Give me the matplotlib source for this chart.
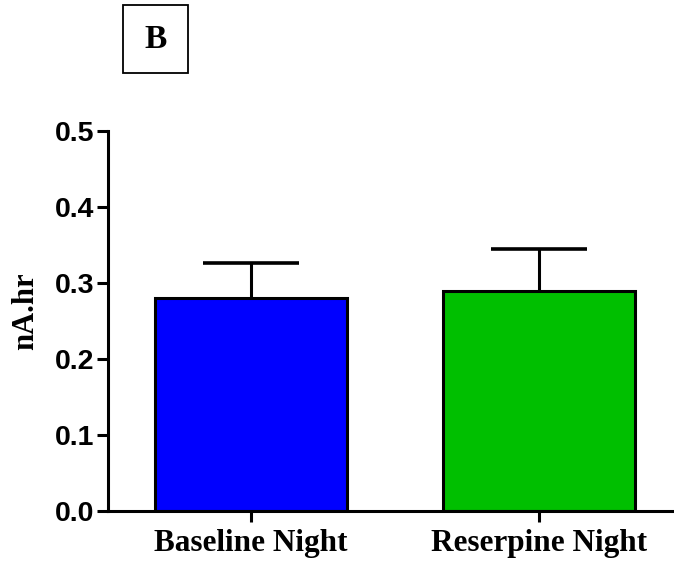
import matplotlib
matplotlib.use("Agg")
import matplotlib.pyplot as plt
from matplotlib.patches import Rectangle

categories = ["Baseline Night", "Reserpine Night"]
means = [0.280, 0.289]
errors = [0.046, 0.056]
bar_colors = ["#0000FF", "#00BF00"]
yticks = [0.0, 0.1, 0.2, 0.3, 0.4, 0.5]

fig = plt.figure(figsize=(6.74, 5.63), dpi=100)
ax = fig.add_axes([108 / 674, 1 - 511 / 563, 1 - 108 / 674, 380 / 563])

x = list(range(len(categories)))
ax.bar(x, means, width=0.665, color=bar_colors, edgecolor="black", linewidth=2.2, zorder=2)
# error bars sit behind the bars so only the upper half shows
ax.errorbar(x, means, yerr=errors, fmt="none", ecolor="black",
            elinewidth=2.2, capsize=34.5, capthick=2.6, zorder=1)

ax.set_xlim(-0.497, 1.469)
ax.set_ylim(0, 0.5)
ax.set_yticks(yticks)
ax.set_yticklabels([f"{t:.1f}" for t in yticks], fontfamily="Liberation Sans",
                   fontweight="bold", fontsize=20.5)
ax.set_xticks(x)
ax.set_xticklabels(categories, fontfamily="Liberation Serif", fontweight="bold", fontsize=22.5)

for side in ("top", "right"):
    ax.spines[side].set_visible(False)
for side in ("left", "bottom"):
    ax.spines[side].set_linewidth(2.2)
ax.tick_params(axis="both", width=2.2, length=8)
ax.tick_params(axis="y", pad=2)
ax.tick_params(axis="x", pad=5)

ax.set_ylabel("nA.hr", fontfamily="Liberation Serif", fontweight="bold", fontsize=22)
ax.yaxis.label.set_va("center")
ax.yaxis.set_label_coords((26 - 108) / 566, (511 - 311) / 380)

# panel letter in a framed box
fig.patches.append(Rectangle((123 / 674, 1 - 73 / 563), 65 / 674, 68 / 563,
                             transform=fig.transFigure, fill=False, edgecolor="black",
                             linewidth=1.3))
fig.text(155.5 / 674, 1 - 39 / 563, "B", ha="center", va="center",
         fontfamily="Liberation Serif", fontweight="bold", fontsize=24)

fig.savefig("out.png", dpi=100)
